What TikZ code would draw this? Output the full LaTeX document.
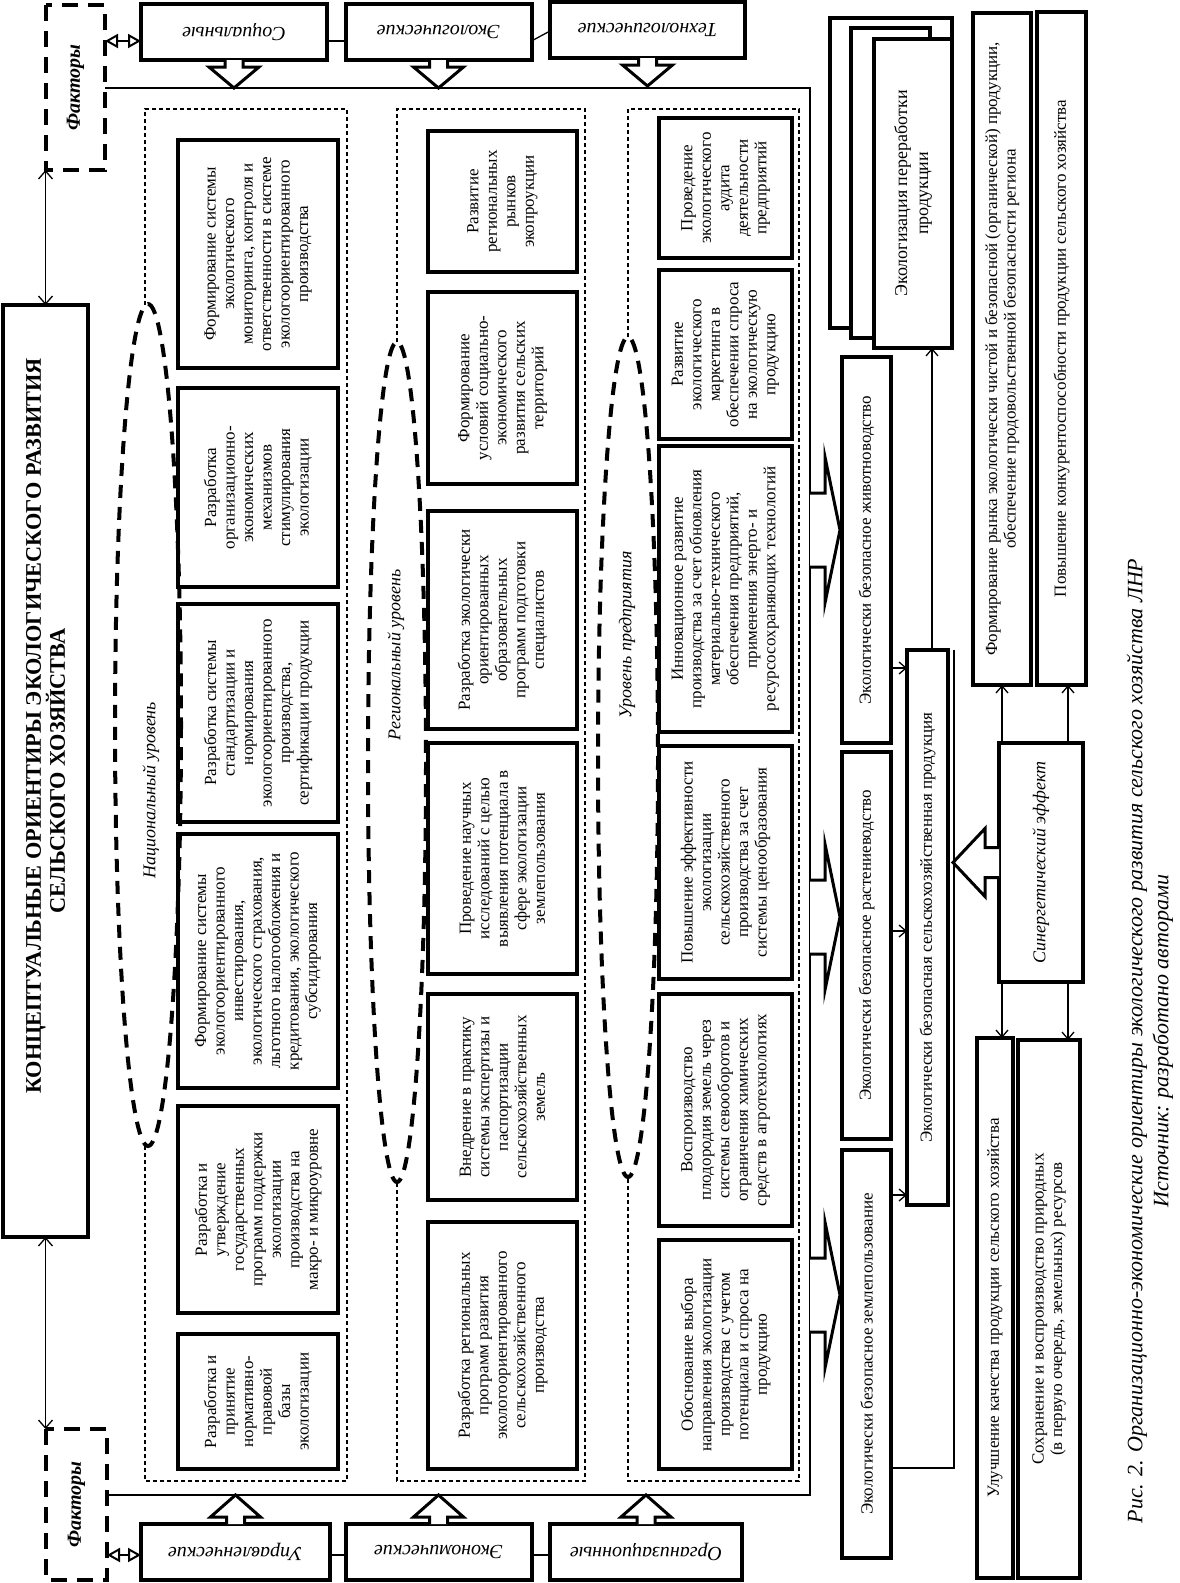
\documentclass[tikz,border=0pt]{standalone}
\usepackage{fontspec}
\setmainfont{Liberation Serif}
\usetikzlibrary{arrows.meta,calc}
\newcommand{\fsbox}{\fontsize{17}{18.5}\selectfont}
\newcommand{\mybox}[7][]{\pgfmathsetmacro{\rbW}{#6-#4}\pgfmathsetmacro{\rbH}{#5-#3}\node[bx,minimum width=\rbW pt,minimum height=\rbH pt,#1] (#2) at ({(#3+#5)/2},{(#4+#6)/2}) {#7};}
\newcommand{\blkdown}[1]{\draw[blk] (#1) ++(-9,0) -- ++(0,7) -- ++(-16,0) -- ++(25,21) -- ++(25,-21) -- ++(-16,0) -- ++(0,-7);}
\newcommand{\blkup}[1]{\draw[blk] (#1) ++(-9,0) -- ++(0,-7) -- ++(-16,0) -- ++(25,-22) -- ++(25,22) -- ++(-16,0) -- ++(0,7);}
\newcommand{\blkright}[1]{\draw[blk] (810,#1) ++(0,-37) -- ++(15,0) -- ++(0,-36) -- ++(15,73) -- ++(-15,73) -- ++(0,-36) -- ++(-15,0);}
\begin{document}
\begin{tikzpicture}[x=1pt,y=-1pt,
  bx/.style={draw,line width=3.5pt,fill=white,rotate=90,align=center,inner sep=1pt,outer sep=0pt,font=\fsbox},
  fac/.style={draw,line width=4.5pt,dash pattern=on 16pt off 10pt,rotate=90,outer sep=0pt,font=\fontsize{20}{22}\selectfont\bfseries\itshape},
  fbox/.style={draw,line width=4pt,fill=white,rotate=180,outer sep=0pt,font=\fontsize{20}{22}\selectfont\itshape,minimum width=186pt,minimum height=56pt},
  blk/.style={draw,line width=3pt,fill=white,line join=miter,miter limit=20},
  col/.style={line width=1.2pt,dash pattern=on 4pt off 3pt},
  ell/.style={line width=4pt,dash pattern=on 13pt off 9pt},
  lvl/.style={rotate=90,font=\fontsize{18}{20}\selectfont\itshape},
  arr/.style={line width=1.3pt,-{Straight Barb[length=7pt,width=12pt]}},
  dbl/.style={line width=1.3pt,{Straight Barb[length=8pt,width=14pt]}-{Straight Barb[length=8pt,width=14pt]}},
  dia/.style={line width=2pt,{Triangle[open,length=13pt,width=14pt]}-{Triangle[open,length=13pt,width=14pt]}},
  frm/.style={line width=1.3pt}]
\fill[white] (0,0) rectangle (1180,1583);
\useasboundingbox (0,0) rectangle (1180,1583);

% helper coordinates
\coordinate (hy661) at (0,668);
\coordinate (hy931) at (0,931);
\coordinate (hy1195) at (0,1195);
\coordinate (hy1468) at (0,1468);
\coordinate (hy88) at (0,88);
\coordinate (hy1495) at (0,1495);
\coordinate (hx932) at (932,0);
\coordinate (hx954) at (954,0);
\coordinate (hx1002) at (1002,0);
\coordinate (hx1068) at (1068,0);

% factor boxes
\node[fac,minimum width=165pt,minimum height=59pt] (fT) at (75.5,87.5) {Факторы};
\node[fac,minimum width=151pt,minimum height=61pt] (fB) at (76.5,1504.5) {Факторы};
\node[fbox] (soc) at (234,32) {Социальные};
\node[fbox] (eco) at (438.5,32) {Экологические};
\node[fbox,minimum width=195pt] (tec) at (647.5,30) {Технологические};
\node[fbox,minimum width=189pt] (upr) at (235.5,1552) {Управленческие};
\node[fbox] (ekn) at (438.5,1552) {Экономические};
\node[fbox,minimum width=192pt] (org) at (646,1552) {Организационные};

\coordinate (d1) at ([yshift=-9pt]soc.east);
\coordinate (d2) at ([yshift=-3pt]upr.east);
\draw[dia] (d1 -| fT.south) -- (d1);
\draw[dia] (d2 -| fB.south) -- (d2);
\draw[frm] ([yshift=-9pt]soc.west) -- ([yshift=-9pt]eco.east);
\draw[frm] ([yshift=-9pt]eco.west) -- ([yshift=-1pt]tec.east);
\draw[frm] ([yshift=-3pt]upr.west) -- ([yshift=-3pt]ekn.east);
\draw[frm] ([yshift=-3pt]ekn.west) -- ([yshift=-3pt]org.east);

% main frame
\draw[frm] (fT.south |- hy88) -| (810,1495) -- (fB.south |- hy1495);

\blkdown{soc.north}
\blkdown{eco.north}
\blkdown{tec.north}
\blkup{upr.south}
\blkup{ekn.south}
\blkup{org.south}

% title
\mybox[font=\fontsize{22.3}{24}\selectfont\bfseries]{title}{3}{305}{88}{1237}{\hspace*{90pt}КОНЦЕПТУАЛЬНЫЕ ОРИЕНТИРЫ ЭКОЛОГИЧЕСКОГО РАЗВИТИЯ\\СЕЛЬСКОГО ХОЗЯЙСТВА}
\draw[dbl] (title.east) -- (title.east |- fT.west);
\draw[dbl] (title.west) -- (title.west |- fB.east);

% column frames
\draw[col] (145,305) -- (145,109) -- (347,109) -- (347,1481) -- (145,1481) -- (145,1146);
\draw[col] (397,342) -- (397,109) -- (585,109) -- (585,1481) -- (397,1481) -- (397,1182);
\draw[col] (628,337) -- (628,109) -- (799,109) -- (799,1481) -- (628,1481) -- (628,1177);

% national
\mybox{n1}{178}{140}{338}{368}{Формирование системы\\экологического\\мониторинга, контроля и\\ответственности в системе\\экологоориентированного\\производства}
\mybox{n2}{178}{388}{338}{587}{Разработка\\организационно-\\экономических\\механизмов\\стимулирования\\экологизации}
\mybox{n3}{178}{604}{338}{822}{Разработка системы\\стандартизации и\\нормирования\\экологоориентированного\\производства,\\сертификации продукции}
\mybox{n4}{178}{834}{338}{1088}{Формирование системы\\экологоориентированного\\инвестирования,\\экологического страхования,\\льготного налогообложения и\\кредитования, экологического\\субсидирования}
\mybox{n5}{178}{1106}{338}{1313}{Разработка и\\утверждение\\государственных\\программ поддержки\\экологизации\\производства на\\макро- и микроуровне}
\mybox{n6}{178}{1334}{338}{1469}{Разработка и\\принятие\\нормативно-\\правовой\\базы\\экологизации}

% regional
\mybox{r1}{428}{131}{577}{272}{Развитие\\региональных\\рынков\\экопроукции}
\mybox{r2}{428}{292}{577}{484}{Формирование\\условий социально-\\экономического\\развития сельских\\территорий}
\mybox{r3}{428}{511}{577}{729}{Разработка экологически\\ориентированных\\образовательных\\программ подготовки\\специалистов}
\mybox{r4}{428}{743}{577}{974}{Проведение научных\\исследований с целью\\выявления потенциала в\\сфере экологизации\\землепользования}
\mybox{r5}{428}{994}{577}{1200}{Внедрение в практику\\системы экспертизы и\\паспортизации\\сельскохозяйственных\\земель}
\mybox{r6}{428}{1222}{577}{1469}{Разработка региональных\\программ развития\\экологоориентированного\\сельскохозяйственного\\производства}

% enterprise
\mybox{e1}{659}{118}{792}{258}{Проведение\\экологического\\аудита\\деятельности\\предприятий}
\mybox{e2}{659}{270}{792}{439}{Развитие\\экологического\\маркетинга в\\обеспечении спроса\\на экологическую\\продукцию}
\mybox{e3}{659}{446}{792}{732}{Инновационное развитие\\производства за счет обновления\\материально-технического\\обеспечения предприятий,\\применения энерго- и\\ресурсосохраняющих технологий}
\mybox{e4}{659}{746}{792}{979}{Повышение эффективности\\экологизации\\сельскохозяйственного\\производства за счет\\системы ценообразования}
\mybox{e5}{659}{994}{792}{1226}{Воспроизводство\\плодородия земель через\\системы севооборотов и\\ограничения химических\\средств в агротехнологиях}
\mybox{e6}{659}{1240}{792}{1469}{Обоснование выбора\\направления экологизации\\производства с учетом\\потенциала и спроса на\\продукцию}

% ellipses and level labels
\draw[ell] (148,725) ellipse [x radius=33, y radius=421];
\draw[ell] (397,762) ellipse [x radius=29, y radius=420];
\draw[ell] (628,757) ellipse [x radius=30, y radius=420];
\node[lvl] (lN) at (151,790) {Национальный уровень};
\node[lvl] (lR) at (396,655) {Региональный уровень};
\node[lvl] (lE) at (627,635) {Уровень предприятия};

% block arrows from frame
\blkright{530}
\blkright{917}
\blkright{1295}

% right column
\mybox{zhiv}{842}{357}{891}{743}{Экологически безопасное животноводство}
\mybox{rast}{842}{752}{891}{1139}{Экологически безопасное растениеводство}
\mybox{zeml}{842}{1150}{891}{1558}{Экологически безопасное землепользование}
\mybox{prod}{907}{650}{948}{1205}{Экологически безопасная сельскохозяйственная продукция}
\mybox{st1}{830}{18}{952}{328}{}
\mybox{st2}{851}{28}{930}{338}{}
\mybox[font=\fontsize{18}{21}\selectfont]{st3}{874}{39}{952}{348}{Экологизация переработки\\продукции}

\draw[arr] (zhiv.south |- hy661) -- (prod.north |- hy661);
\draw[arr] (rast.south |- hy931) -- (prod.north |- hy931);
\draw[arr] (zeml.south |- hy1195) -- (prod.north |- hy1195);
\draw[arr] (prod.east -| hx932) -- (st3.west -| hx932);
\draw[frm] (zeml.south |- hy1468) -| (prod.east -| hx954);

\mybox{rb1}{973}{13}{1031}{685}{Формирование рынка экологически чистой и безопасной (органической) продукции,\\обеспечение продовольственной безопасности региона}
\mybox{rb2}{1037}{12}{1086}{685}{Повышение конкурентоспособности продукции сельского хозяйства}
\mybox[font=\fontsize{18}{20}\selectfont\itshape]{syn}{999}{743}{1083}{982}{Синергетический эффект}
\mybox{rb3}{977}{1038}{1013}{1578}{Улучшение качества продукции сельского хозяйства}
\mybox{rb4}{1018}{1040}{1080}{1578}{Сохранение и воспроизводство природных\\(в первую очередь, земельных) ресурсов}

\draw[arr] (syn.east -| hx1002) -- (rb1.west -| hx1002);
\draw[arr] (syn.east -| hx1068) -- (rb2.west -| hx1068);
\draw[arr] (syn.west -| hx1002) -- (rb3.east -| hx1002);
\draw[arr] (syn.west -| hx1068) -- (rb4.east -| hx1068);
\draw[blk] (syn.north) ++(0,-15) -- ++(-14,0) -- ++(0,-19) -- ++(-32,34) -- ++(32,34) -- ++(0,-19) -- ++(14,0);

% caption
\node[rotate=90,align=center,font=\fontsize{22}{26}\selectfont\itshape] (cap) at (1150,1041) {Рис. 2. Организационно-экономические ориентиры экологического развития сельского хозяйства ЛНР\\Источник: разработано авторами};
\end{tikzpicture}
\end{document}
